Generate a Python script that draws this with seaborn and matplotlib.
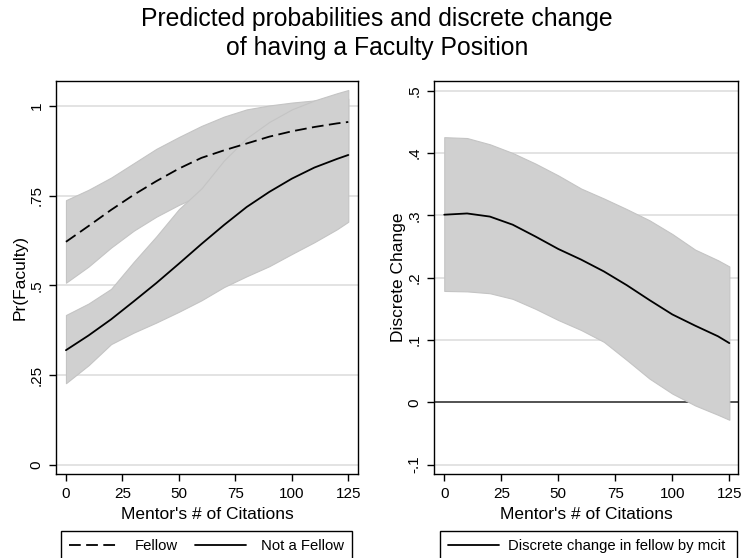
import numpy as np
import pandas as pd
import matplotlib
matplotlib.use("Agg")
import matplotlib.pyplot as plt
import seaborn as sns
from matplotlib.lines import Line2D

# Mentor's number of citations at which predictions were computed
mcit = [0, 10, 20, 30, 40, 50, 60, 70, 80, 90, 100, 110, 120, 125]

# Pr(Faculty) for fellows, with confidence bounds
fellow_pr = [0.621, 0.665, 0.710, 0.752, 0.790, 0.825, 0.855, 0.876, 0.895, 0.914, 0.929, 0.941, 0.951, 0.955]
fellow_lo = [0.507, 0.552, 0.605, 0.652, 0.691, 0.724, 0.752, 0.776, 0.797, 0.815, 0.831, 0.845, 0.857, 0.862]
fellow_hi = [0.737, 0.766, 0.800, 0.840, 0.880, 0.913, 0.944, 0.970, 0.990, 1.001, 1.009, 1.015, 1.019, 1.020]

# Pr(Faculty) for non-fellows, with confidence bounds
notfel_pr = [0.319, 0.360, 0.405, 0.455, 0.506, 0.560, 0.615, 0.668, 0.718, 0.760, 0.797, 0.828, 0.852, 0.863]
notfel_lo = [0.227, 0.277, 0.336, 0.368, 0.396, 0.426, 0.458, 0.495, 0.525, 0.553, 0.587, 0.620, 0.656, 0.677]
notfel_hi = [0.417, 0.449, 0.490, 0.565, 0.636, 0.712, 0.770, 0.848, 0.910, 0.955, 0.990, 1.015, 1.035, 1.044]

# Discrete change in Pr(Faculty) from fellow status, with confidence bounds
dc = [0.301, 0.303, 0.298, 0.285, 0.266, 0.246, 0.229, 0.210, 0.188, 0.164, 0.141, 0.123, 0.106, 0.095]
dc_lo = [0.1787, 0.178, 0.175, 0.166, 0.150, 0.132, 0.116, 0.097, 0.068, 0.038, 0.014, -0.005, -0.020, -0.028]
dc_hi = [0.4254, 0.424, 0.414, 0.400, 0.383, 0.364, 0.343, 0.327, 0.310, 0.292, 0.270, 0.245, 0.228, 0.218]

x_ticks = [0, 25, 50, 75, 100, 125]
left_yticks = [0, 0.25, 0.5, 0.75, 1]
left_ylabels = ["0", ".25", ".5", ".75", "1"]
right_yticks = [-0.1, 0, 0.1, 0.2, 0.3, 0.4, 0.5]
right_ylabels = ["-.1", "0", ".1", ".2", ".3", ".4", ".5"]

sns.set_style("ticks")
plt.rcParams["font.family"] = ["Liberation Sans", "DejaVu Sans"]
plt.rcParams.update({
    "text.color": "black",
    "axes.labelcolor": "black",
    "xtick.color": "black",
    "ytick.color": "black",
})

df = pd.DataFrame({
    "mcit": mcit,
    "fellow": fellow_pr, "fellow_lo": fellow_lo, "fellow_hi": fellow_hi,
    "notfel": notfel_pr, "notfel_lo": notfel_lo, "notfel_hi": notfel_hi,
    "dc": dc, "dc_lo": dc_lo, "dc_hi": dc_hi,
})

W, H = 743, 558
fig = plt.figure(figsize=(W / 100, H / 100), dpi=100)
fig.patch.set_facecolor("white")

def fig_rect(x0, y0, x1, y1):
    return [x0 / W, 1 - y1 / H, (x1 - x0) / W, (y1 - y0) / H]

ax1 = fig.add_axes(fig_rect(56, 80.7, 358, 474))
ax2 = fig.add_axes(fig_rect(434, 80.7, 738, 474))

band_face = "#d0d0d0"
band_edge = "#c4c4c4"
grid_col = "#e3e3e3"
dash_pat = (6.5, 3.0)

# Left panel: predicted probabilities
for yv in left_yticks:
    ax1.axhline(yv, color=grid_col, lw=1.4, zorder=0)
ax1.fill_between(df["mcit"], df["fellow_lo"], df["fellow_hi"], facecolor=band_face,
                 edgecolor=band_edge, lw=0.8, zorder=1)
ax1.fill_between(df["mcit"], df["notfel_lo"], df["notfel_hi"], facecolor=band_face,
                 edgecolor=band_edge, lw=0.8, zorder=2)
sns.lineplot(data=df, x="mcit", y="fellow", ax=ax1, color="black", lw=1.3,
             zorder=3, legend=False)
ax1.lines[-1].set_dashes(dash_pat)
sns.lineplot(data=df, x="mcit", y="notfel", ax=ax1, color="black", lw=1.3, zorder=3,
             legend=False)
ax1.set_xlim(-4.4, 129.3)
ax1.set_ylim(-0.026, 1.07)
ax1.set_yticks(left_yticks)
ax1.set_yticklabels(left_ylabels)
ax1.set_ylabel("Pr(Faculty)", fontsize=12.5, labelpad=1)

# Right panel: discrete change
for yv in right_yticks:
    ax2.axhline(yv, color=grid_col, lw=1.4, zorder=0)
ax2.axhline(0, color="#3a3a3a", lw=1.2, zorder=0.5)
ax2.fill_between(df["mcit"], df["dc_lo"], df["dc_hi"], facecolor=band_face,
                 edgecolor=band_edge, lw=0.8, zorder=1)
sns.lineplot(data=df, x="mcit", y="dc", ax=ax2, color="black", lw=1.3, zorder=3,
             legend=False)
ax2.set_xlim(-4.5, 128.8)
ax2.set_ylim(-0.115, 0.516)
ax2.set_yticks(right_yticks)
ax2.set_yticklabels(right_ylabels)
ax2.set_ylabel("Discrete Change", fontsize=12.5, labelpad=1)

for ax in (ax1, ax2):
    ax.set_xticks(x_ticks)
    ax.set_xticklabels([str(v) for v in x_ticks])
    ax.set_xlabel("Mentor's # of Citations", fontsize=12.5, labelpad=5)
    ax.tick_params(axis="both", direction="out", length=5, width=1, labelsize=11,
                   color="black", labelcolor="black", pad=4)
    for lab in ax.get_yticklabels():
        lab.set_rotation(90)
        lab.set_va("center")
    for sp in ax.spines.values():
        sp.set_visible(True)
        sp.set_color("black")
        sp.set_linewidth(1.0)
    ax.set_facecolor("white")

# Legends below each panel
leg_kw = dict(loc="upper left", mode="expand", borderaxespad=0, fancybox=False,
              edgecolor="black", framealpha=1, fontsize=10.7, handlelength=3.4,
              borderpad=0.55, bbox_transform=fig.transFigure)
h1 = [Line2D([], [], color="black", lw=1.3, dashes=dash_pat),
      Line2D([], [], color="black", lw=1.3)]
lg1 = ax1.legend(h1, ["Fellow", "Not a Fellow"], ncol=2, handletextpad=1.0,
                 bbox_to_anchor=(61 / W, 1 - 531 / H - 0.2, 291 / W, 0.2),
                 **leg_kw)
lg1.get_frame().set_linewidth(1.0)
h2 = [Line2D([], [], color="black", lw=1.3)]
lg2 = ax2.legend(h2, ["Discrete change in fellow by mcit"], ncol=1, handletextpad=0.65,
                 bbox_to_anchor=(440 / W, 1 - 531 / H - 0.2, 297 / W, 0.2),
                 **leg_kw)
lg2.get_frame().set_linewidth(1.0)

# Two-line title
fig.text(377 / W, 1 - 26 / H, "Predicted probabilities and discrete change",
         ha="center", va="baseline", fontsize=17.8)
fig.text(377 / W, 1 - 54.5 / H, "of having a Faculty Position",
         ha="center", va="baseline", fontsize=17.8)

fig.savefig("out.png", dpi=100, facecolor="white")
